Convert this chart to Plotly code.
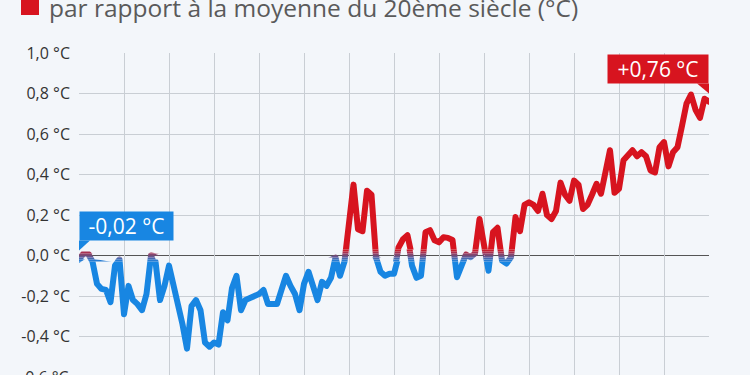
import plotly.graph_objects as go

# ---------------- data ----------------
years = list(range(1880, 2021))
anomaly = [
    -0.02, 0.01, 0.01, -0.03, -0.14, -0.165, -0.17, -0.23, -0.05, -0.02,   # 1880-1889
    -0.29, -0.15, -0.22, -0.24, -0.27, -0.19, 0.00, -0.03, -0.22, -0.15,    # 1890-1899
    -0.05, -0.14, -0.22, -0.34, -0.46, -0.25, -0.22, -0.27, -0.43, -0.45,   # 1900-1909
    -0.43, -0.44, -0.28, -0.32, -0.16, -0.10, -0.27, -0.22, -0.21, -0.20,   # 1910-1919
    -0.19, -0.17, -0.24, -0.24, -0.24, -0.17, -0.10, -0.15, -0.19, -0.27,   # 1920-1929
    -0.14, -0.08, -0.15, -0.22, -0.13, -0.15, -0.11, -0.01, -0.10, -0.03,   # 1930-1939
    0.16, 0.35, 0.13, 0.12, 0.32, 0.30, -0.01, -0.08, -0.10, -0.09,         # 1940-1949
    -0.09, 0.04, 0.08, 0.10, -0.05, -0.11, -0.10, 0.115, 0.125, 0.075,      # 1950-1959
    0.065, 0.09, 0.087, 0.077, -0.107, -0.04, 0.005, -0.008, 0.01, 0.18,    # 1960-1969
    0.05, -0.075, 0.115, 0.137, -0.025, -0.04, -0.008, 0.19, 0.12, 0.25,    # 1970-1979
    0.263, 0.25, 0.22, 0.305, 0.20, 0.18, 0.22, 0.36, 0.30, 0.27,           # 1980-1989
    0.37, 0.35, 0.23, 0.25, 0.30, 0.354, 0.305, 0.42, 0.52, 0.31,           # 1990-1999
    0.33, 0.47, 0.50, 0.52, 0.49, 0.51, 0.49, 0.42, 0.41, 0.535,            # 2000-2009
    0.56, 0.44, 0.51, 0.535, 0.64, 0.75, 0.795, 0.72, 0.68, 0.774,          # 2010-2019
    0.76,                                                                   # 2020
]
y_tick_values = [-0.4, -0.2, 0.0, 0.2, 0.4, 0.6, 0.8, 1.0]
y_tick_labels = ["-0,4 °C", "-0,2 °C", "0,0 °C", "0,2 °C", "0,4 °C", "0,6 °C", "0,8 °C", "1,0 °C"]
cut_tick_value = -0.6
cut_tick_label = "-0,6 °C"
subtitle = "par rapport à la moyenne du 20ème siècle (°C)"

# ---------------- styling ----------------
W, H = 750, 375
ML, MR, MT, MB = 79, 41, 53, 0
Y_MIN, Y_MAX = -0.59, 1.0
BG = "#f3f6fa"
GRID = "#c9ced4"
BLUE = (24, 134, 226)
RED = (215, 20, 31)
FONT = "Open Sans"
LINE_W = 6
TICK_SIZE = 16


def rgb(c):
    return "rgb(%d,%d,%d)" % c


def mix(t):
    return tuple(round(BLUE[i] + (RED[i] - BLUE[i]) * t) for i in range(3))


def yfrac(v):
    return (v - Y_MIN) / (Y_MAX - Y_MIN)


def fmt(v):
    return ("%+.2f" % v).replace(".", ",") + " °C"


fig = go.Figure()

# invisible trace on the main axes (carries grid & labels)
fig.add_trace(go.Scatter(x=years, y=anomaly, mode="lines",
                         line=dict(width=0, color="rgba(0,0,0,0)"),
                         hoverinfo="skip", showlegend=False))

# colour bands: same series drawn in stacked clipped sub-axes -> blue/red gradient at 0
lo, hi = -0.03, 0.03
steps = 6
bounds = [Y_MIN] + [lo + (hi - lo) * k / steps for k in range(steps + 1)] + [Y_MAX]
layout_axes = {}
for i in range(len(bounds) - 1):
    a, b = bounds[i], bounds[i + 1]
    mid = (a + b) / 2
    t = min(1, max(0, (mid - lo) / (hi - lo)))
    name = "y%d" % (i + 2)
    fig.add_trace(go.Scatter(x=years, y=anomaly, mode="lines", yaxis=name,
                             line=dict(width=LINE_W, color=rgb(mix(t))),
                             hoverinfo="skip", showlegend=False))
    layout_axes["yaxis%d" % (i + 2)] = dict(
        domain=[yfrac(a), yfrac(b)], range=[a, b], anchor="x",
        visible=False, showgrid=False, zeroline=False, fixedrange=True)

fig.update_layout(
    width=W, height=H,
    margin=dict(l=ML, r=MR, t=MT, b=MB),
    paper_bgcolor=BG, plot_bgcolor="rgba(0,0,0,0)",
    showlegend=False,
    font=dict(family=FONT, color="#333333"),
    xaxis=dict(range=[years[0], years[-1]], tick0=1880, dtick=10,
               showticklabels=False, ticks="", showgrid=True,
               gridcolor=GRID, gridwidth=1, zeroline=False, showline=False),
    yaxis=dict(range=[Y_MIN, Y_MAX], domain=[0, 1], tickmode="array",
               tickvals=y_tick_values, ticktext=y_tick_labels,
               tickfont=dict(size=TICK_SIZE, family=FONT, color="#333333"),
               ticks="", ticklabelstandoff=8,
               showgrid=True, gridcolor=GRID, gridwidth=1,
               zeroline=True, zerolinecolor="#555555", zerolinewidth=1),
    **layout_axes,
)

# cut-off bottom tick label
fig.add_annotation(xref="paper", yref="paper", x=0, y=yfrac(cut_tick_value),
                   xanchor="right", yanchor="middle", xshift=-8,
                   text=cut_tick_label, showarrow=False,
                   font=dict(size=TICK_SIZE, family=FONT, color="#333333"))


def py(p):  # pixel -> paper y
    return (H - MB - p) / (H - MT - MB)


def px(p):  # pixel -> paper x
    return (p - ML) / (W - ML - MR)


# subtitle (top, cut off) with red legend square
fig.add_shape(type="rect", xref="paper", yref="paper",
              x0=px(21), x1=px(39), y0=py(15), y1=py(-4),
              fillcolor=rgb(RED), line=dict(width=0))
fig.add_annotation(xref="paper", yref="paper", x=px(47), y=py(7),
                   xanchor="left", yanchor="middle", text=subtitle,
                   showarrow=False,
                   font=dict(size=24.5, family=FONT, color="#5a5a5a"))

# callouts for first and last values
fig.add_annotation(x=years[0], y=anomaly[0], xref="x", yref="y",
                   text=fmt(anomaly[0]).replace("+", ""), showarrow=False,
                   xanchor="left", yanchor="bottom", xshift=0, yshift=19,
                   width=93, height=28, borderpad=0, bgcolor=rgb(BLUE),
                   font=dict(size=21, family=FONT, color="white"))
fig.add_shape(type="path", xref="x", yref="y", xsizemode="pixel", ysizemode="pixel",
              xanchor=years[0], yanchor=anomaly[0],
              path="M 0 19 L 11 19 L 0 9 Z", fillcolor=rgb(BLUE), line=dict(width=0))

fig.add_annotation(x=years[-1], y=anomaly[-1], xref="x", yref="y",
                   text=fmt(anomaly[-1]), showarrow=False,
                   xanchor="right", yanchor="bottom", xshift=0, yshift=18,
                   width=100, height=28, borderpad=0, bgcolor=rgb(RED),
                   font=dict(size=21, family=FONT, color="white"))
fig.add_shape(type="path", xref="x", yref="y", xsizemode="pixel", ysizemode="pixel",
              xanchor=years[-1], yanchor=anomaly[-1],
              path="M 0 18 L -12 18 L 0 8 Z", fillcolor=rgb(RED), line=dict(width=0))

fig.write_html("out.html", config={"displayModeBar": False},
               post_script="document.querySelectorAll('.scatterlayer path.js-line').forEach(function(p){p.style.strokeLinejoin='round';p.style.strokeLinecap='round';});")
